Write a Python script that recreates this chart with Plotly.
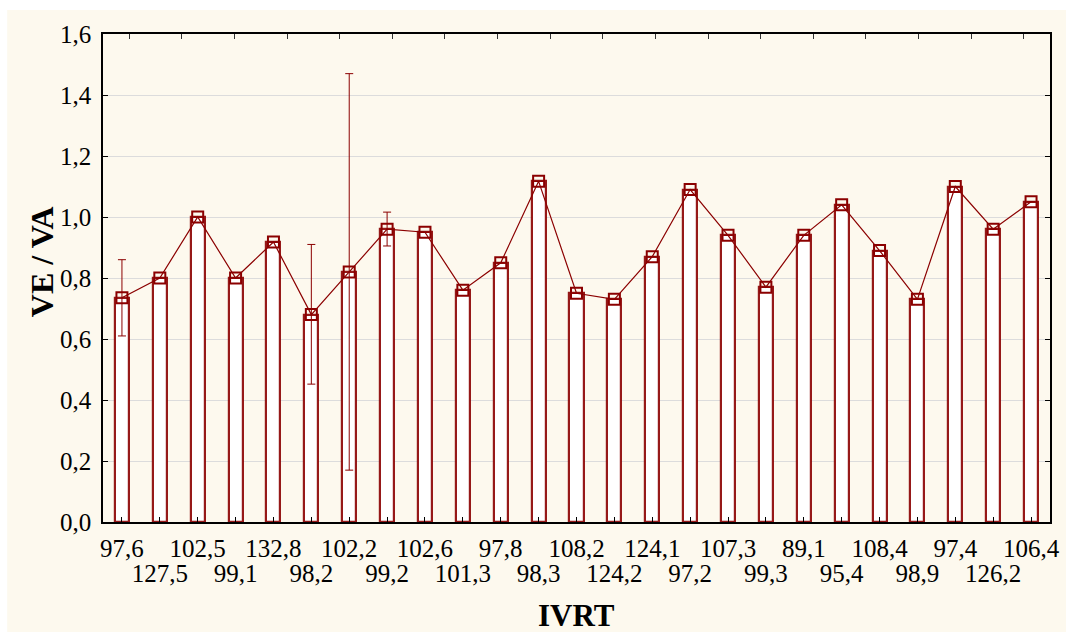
import plotly.graph_objects as go

# IVRT categories (ms) and VE/VA ratio per category
ivrt_labels = ["97,6", "127,5", "102,5", "99,1", "132,8", "98,2", "102,2", "99,2",
               "102,6", "101,3", "97,8", "98,3", "108,2", "124,2", "124,1", "97,2",
               "107,3", "99,3", "89,1", "95,4", "108,4", "98,9", "97,4", "126,2", "106,4"]
ve_va = [0.735, 0.80, 1.00, 0.80, 0.918, 0.68, 0.82, 0.96, 0.95, 0.76, 0.85, 1.117,
         0.75, 0.73, 0.87, 1.09, 0.94, 0.77, 0.94, 1.04, 0.89, 0.73, 1.10, 0.96, 1.05]
# error bar limits (None where no error bar is shown)
err_upper = [0.86, None, None, None, None, 0.91, 1.47, 1.016, None, None, None, None,
             None, None, None, None, None, None, None, None, None, None, None, None, None]
err_lower = [0.61, None, None, None, None, 0.452, 0.17, 0.905, None, None, None, None,
             None, None, None, None, None, None, None, None, None, None, None, None, None]

y_ticks = [0.0, 0.2, 0.4, 0.6, 0.8, 1.0, 1.2, 1.4, 1.6]

DARK_RED = "#8B0000"
CREAM = "#FDF9EE"
SERIF = "Liberation Serif"

pos = list(range(len(ivrt_labels)))
plus = [(u - v) if u is not None else 0 for u, v in zip(err_upper, ve_va)]
minus = [(v - l) if l is not None else 0 for l, v in zip(err_lower, ve_va)]
has_err = [u is not None for u in err_upper]
# labels alternate between an upper and a lower row
even_pos = pos[0::2]
odd_pos = pos[1::2]
even_text = ivrt_labels[0::2]
odd_text = ivrt_labels[1::2]
x_range = [-0.5, len(ivrt_labels) - 0.5]

fig = go.Figure()

fig.add_trace(go.Bar(
    x=pos, y=ve_va, width=0.37,
    marker=dict(color="white", line=dict(color="rgba(139,0,0,0.9)", width=2.2)),
    hoverinfo="skip", showlegend=False,
))

fig.add_trace(go.Scatter(
    x=pos, y=ve_va, mode="lines+markers",
    line=dict(color=DARK_RED, width=1.2),
    marker=dict(symbol="square-open", size=11, color=DARK_RED, line=dict(width=2)),
    error_y=dict(type="data", symmetric=False,
                 array=[p if h else None for p, h in zip(plus, has_err)],
                 arrayminus=[m if h else None for m, h in zip(minus, has_err)],
                 color=DARK_RED, thickness=1, width=4),
    showlegend=False,
))

# empty traces carrying the extra axes (top ticks, lower label row)
fig.add_trace(go.Scatter(x=[], y=[], xaxis="x2", showlegend=False))
fig.add_trace(go.Scatter(x=[], y=[], xaxis="x3", showlegend=False))

tick_font = dict(family=SERIF, size=25, color="black")

fig.update_layout(
    width=1072, height=633,
    margin=dict(l=103, r=20, t=34, b=111),
    paper_bgcolor="white",
    plot_bgcolor="white",
    separators=", ",
    font=dict(family=SERIF, size=25, color="black"),
    bargap=0,
    shapes=[dict(type="rect", xref="paper", yref="paper", layer="below",
                 x0=-96 / 949, x1=1 + 16 / 949, y0=-110 / 488, y1=1 + 24 / 488,
                 fillcolor=CREAM, line=dict(width=0))],
    xaxis=dict(
        range=x_range, tickvals=even_pos, ticktext=even_text, tickangle=0,
        ticks="inside", ticklen=5, tickcolor="black", ticklabelstandoff=3,
        showline=True, linecolor="black", linewidth=1.5, mirror=True,
        showgrid=False, zeroline=False, tickfont=tick_font,
    ),
    xaxis3=dict(
        overlaying="x", side="bottom", anchor="y",
        range=x_range, tickvals=odd_pos, ticktext=odd_text, tickangle=0,
        ticks="inside", ticklen=5, tickcolor="black", ticklabelstandoff=34,
        showline=False, showgrid=False, zeroline=False, tickfont=tick_font,
    ),
    xaxis2=dict(
        overlaying="x", side="top", anchor="y",
        range=[-0.5, 17.5], tickvals=list(range(18)),
        ticks="inside", ticklen=5, tickcolor="#333333",
        showticklabels=False, showline=False, showgrid=False, zeroline=False,
    ),
    yaxis=dict(
        range=[0, 1.6], tickvals=y_ticks, tickformat=".1f",
        ticks="inside", ticklen=5, tickcolor="black", ticklabelstandoff=5,
        showline=True, linecolor="black", linewidth=1.5, mirror="ticks",
        showgrid=True, gridcolor="#DCDCDC", gridwidth=1, zeroline=False,
        tickfont=tick_font,
    ),
    annotations=[
        dict(text="<b>IVRT</b>", xref="paper", yref="paper",
             x=0.5, y=-(615 - 522) / 488, xanchor="center", yanchor="middle",
             showarrow=False, font=dict(family=SERIF, size=31, color="black")),
        dict(text="<b>VE / VA</b>", xref="paper", yref="paper", textangle=-90,
             x=(42 - 103) / 949, y=(522 - 262) / 488, xanchor="center", yanchor="middle",
             showarrow=False, font=dict(family=SERIF, size=32, color="black")),
    ],
)

fig.write_html("out.html")
